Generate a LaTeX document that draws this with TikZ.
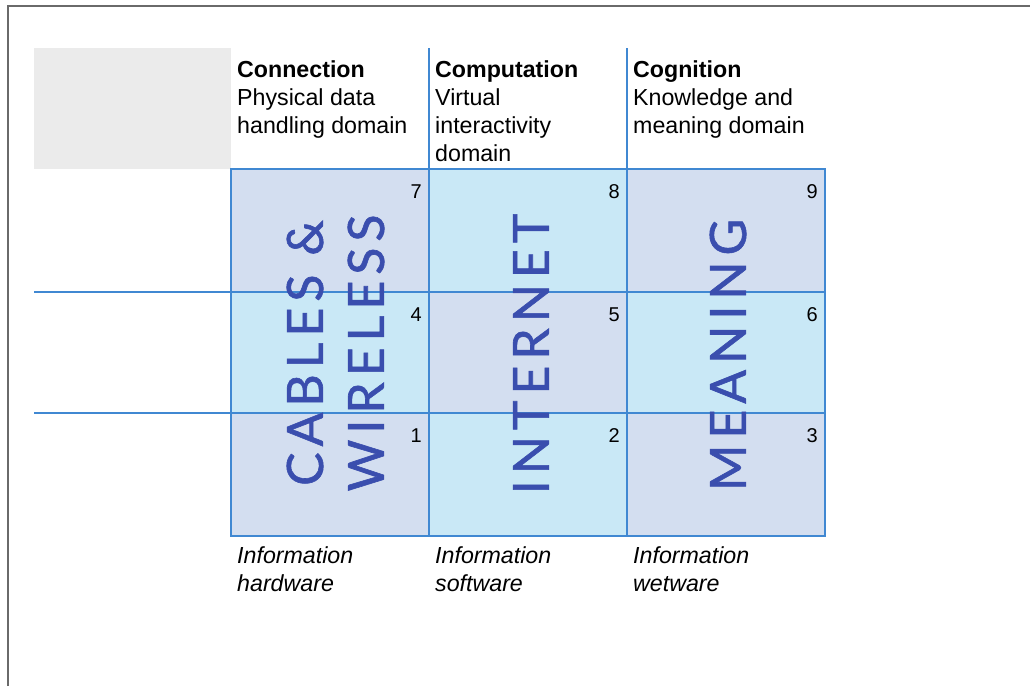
\documentclass[tikz,border=0pt]{standalone}
\usepackage{fontspec}
\setmainfont{Liberation Sans}
\newfontfamily\bigfont[LetterSpace=12,FakeBold=1.2]{Lato}
\definecolor{lav}{HTML}{D3DEF0}
\definecolor{cyn}{HTML}{C9E8F6}
\definecolor{gridblue}{HTML}{4088D2}
\definecolor{txtblue}{HTML}{3A4EAE}
\definecolor{boxgray}{HTML}{EBEBEB}
\definecolor{framegray}{HTML}{6A6A6A}
\newcommand{\lines}[1]{\begin{tabular}[t]{@{}l@{}}#1\end{tabular}}
\begin{document}
\begin{tikzpicture}[x=1pt,y=-1pt,
  cell/.style={draw=gridblue,line width=2pt,anchor=north west,inner sep=0pt,outer sep=0pt,minimum width=198pt},
  num/.style={anchor=base east,inner sep=0pt,font=\fontsize{20}{24}\selectfont},
  head/.style={anchor=base west,inner sep=0pt,font=\fontsize{23.2}{28}\selectfont},
  foot/.style={anchor=base west,inner sep=0pt,font=\fontsize{23.2}{28}\selectfont\itshape},
  big/.style={rotate=90,inner sep=0pt,text=txtblue,font=\fontsize{50}{50}\bigfont},
  gline/.style={draw=gridblue,line width=2pt}]
\useasboundingbox (0,0) rectangle (1030,686);
\draw[framegray,line width=1.5pt] (8,686) -- (8,6) -- (1030,6);
% gray box
\node[fill=boxgray,anchor=north west,inner sep=0pt,minimum width=197pt,minimum height=121pt] (gb) at (34,48) {};
% cells
\node[cell,fill=lav,minimum height=123pt] (c7) at (231,169) {};
\node[cell,fill=cyn,minimum height=123pt] (c8) at (429,169) {};
\node[cell,fill=lav,minimum height=123pt] (c9) at (627,169) {};
\node[cell,fill=cyn,minimum height=121pt] (c4) at (231,292) {};
\node[cell,fill=lav,minimum height=121pt] (c5) at (429,292) {};
\node[cell,fill=cyn,minimum height=121pt] (c6) at (627,292) {};
\node[cell,fill=lav,minimum height=123pt] (c1) at (231,413) {};
\node[cell,fill=cyn,minimum height=123pt] (c2) at (429,413) {};
\node[cell,fill=lav,minimum height=123pt] (c3) at (627,413) {};
% header dividers
\coordinate (h1) at (429,48);
\coordinate (h2) at (627,48);
\draw[gline] (h1) -- (c8.north west);
\draw[gline] (h2) -- (c9.north west);
% left extension lines
\coordinate (l1) at (34,292);
\coordinate (l2) at (34,413);
\draw[gline] (l1) -- (c4.north west);
\draw[gline] (l2) -- (c1.north west);
% numbers
\node[num] (n7) at (422,198) {7};
\node[num] (n8) at (620,198) {8};
\node[num] (n9) at (818,198) {9};
\node[num] (n4) at (422,321) {4};
\node[num] (n5) at (620,321) {5};
\node[num] (n6) at (818,321) {6};
\node[num] (n1) at (422,442) {1};
\node[num] (n2) at (620,442) {2};
\node[num] (n3) at (818,442) {3};
% big words
\node[big] (cab) at (305,353) {CABLES \&};
\node[big] (wir) at (366,353) {WIRELESS};
\node[big] (int) at (531,354) {INTERNET};
\node[big] (mea) at (728,355) {MEANING};
% headers
\node[head] (hc1) at (237,77) {\lines{\textbf{Connection}\\Physical data\\handling domain}};
\node[head] (hc2) at (435,77) {\lines{\textbf{Computation}\\Virtual\\interactivity\\domain}};
\node[head] (hc3) at (633,77) {\lines{\textbf{Cognition}\\Knowledge and\\meaning domain}};
% footers
\node[foot] (f1) at (237,563) {\lines{Information\\hardware}};
\node[foot] (f2) at (435,563) {\lines{Information\\software}};
\node[foot] (f3) at (633,563) {\lines{Information\\wetware}};
\end{tikzpicture}
\end{document}
